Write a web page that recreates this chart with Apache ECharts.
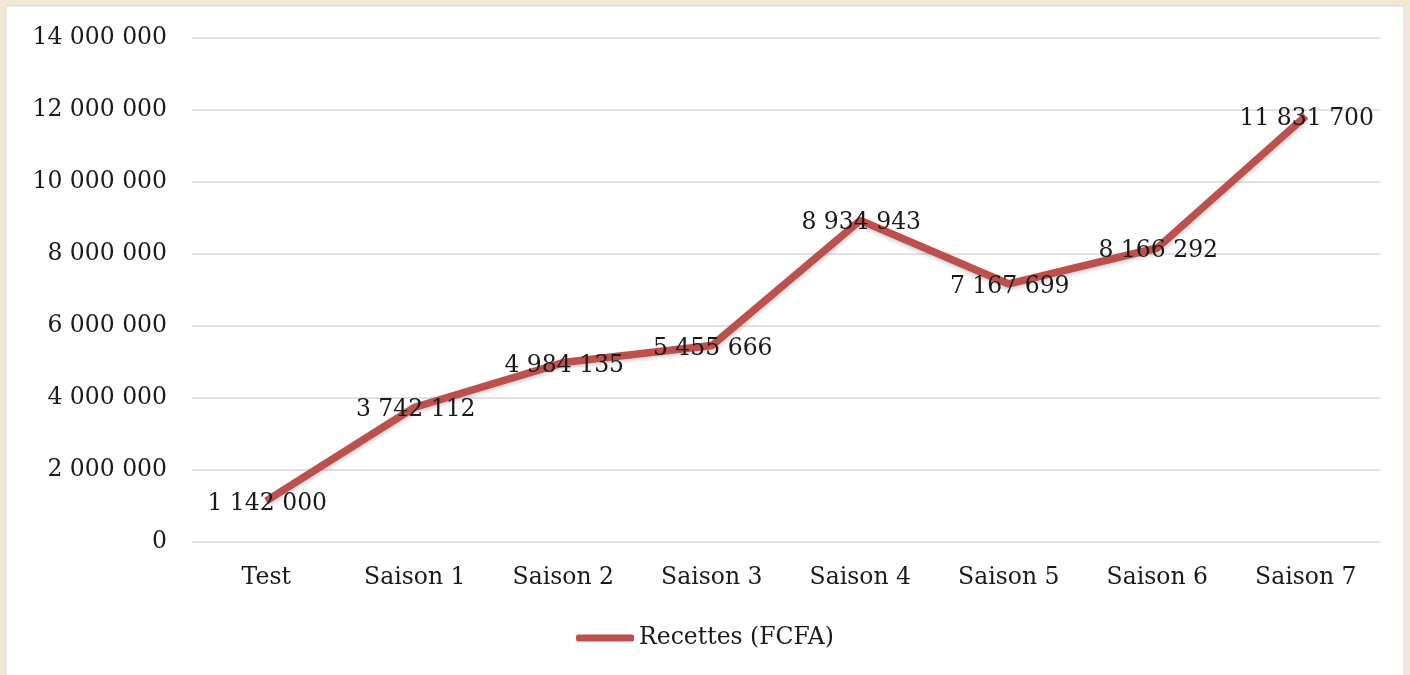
<!DOCTYPE html>
<html>
<head>
<meta charset="utf-8">
<script src="https://cdn.jsdelivr.net/npm/echarts@6/dist/echarts.min.js"></script>
<style>
html,body{margin:0;padding:0;background:#F2E8D6;}
#c{width:1410px;height:675px;}
</style>
</head>
<body>
<div id="c"></div>
<script>
const categories = ['Test','Saison 1','Saison 2','Saison 3','Saison 4','Saison 5','Saison 6','Saison 7'];
const recettes = [1142000, 3742112, 4984135, 5455666, 8934943, 7167699, 8166292, 11831700];
const seriesName = 'Recettes (FCFA)';

function fmt(v){
  return String(Math.round(v)).replace(/\B(?=(\d{3})+(?!\d))/g, ' ');
}
const FONT = 'DejaVu Serif';
const FS = 23.5;
const chart = echarts.init(document.getElementById('c'));
chart.setOption({
  backgroundColor: '#F2E8D6',
  animation: false,
  graphic: [{
    type: 'rect', z: -10, silent: true,
    shape: {x: 6, y: 6, width: 1398, height: 680},
    style: {fill: '#ffffff', stroke: '#dcdcdc', lineWidth: 1}
  }],
  grid: {left: 192, top: 38, width: 1188, height: 504},
  xAxis: {
    type: 'category', data: categories, boundaryGap: true,
    axisLine: {show: false}, axisTick: {show: false},
    axisLabel: {color: '#1a1a1a', fontFamily: FONT, fontSize: FS, margin: 24}
  },
  yAxis: {
    type: 'value', min: 0, max: 14000000, interval: 2000000,
    axisLine: {show: false}, axisTick: {show: false},
    axisLabel: {color: '#1a1a1a', fontFamily: FONT, fontSize: FS, margin: 25, formatter: fmt},
    splitLine: {lineStyle: {color: '#d9d9d9', width: 1.5}}
  },
  legend: {
    data: [seriesName], bottom: 20, left: 'center',
    icon: 'roundRect', itemWidth: 58, itemHeight: 7, itemGap: 4,
    textStyle: {color: '#1a1a1a', fontFamily: FONT, fontSize: FS}
  },
  series: [{
    name: seriesName, type: 'line', data: recettes,
    symbol: 'circle', symbolSize: 0.1, showSymbol: true,
    lineStyle: {color: '#BD4F4C', width: 7.5, shadowColor: 'rgba(0,0,0,0.2)', shadowBlur: 4, shadowOffsetY: 2},
    itemStyle: {color: '#BD4F4C'},
    label: {show: true, position: 'inside', offset: [1, 3], color: '#1a1a1a', fontFamily: FONT, fontSize: FS, formatter: p => fmt(p.value)}
  }]
});
</script>
</body>
</html>
